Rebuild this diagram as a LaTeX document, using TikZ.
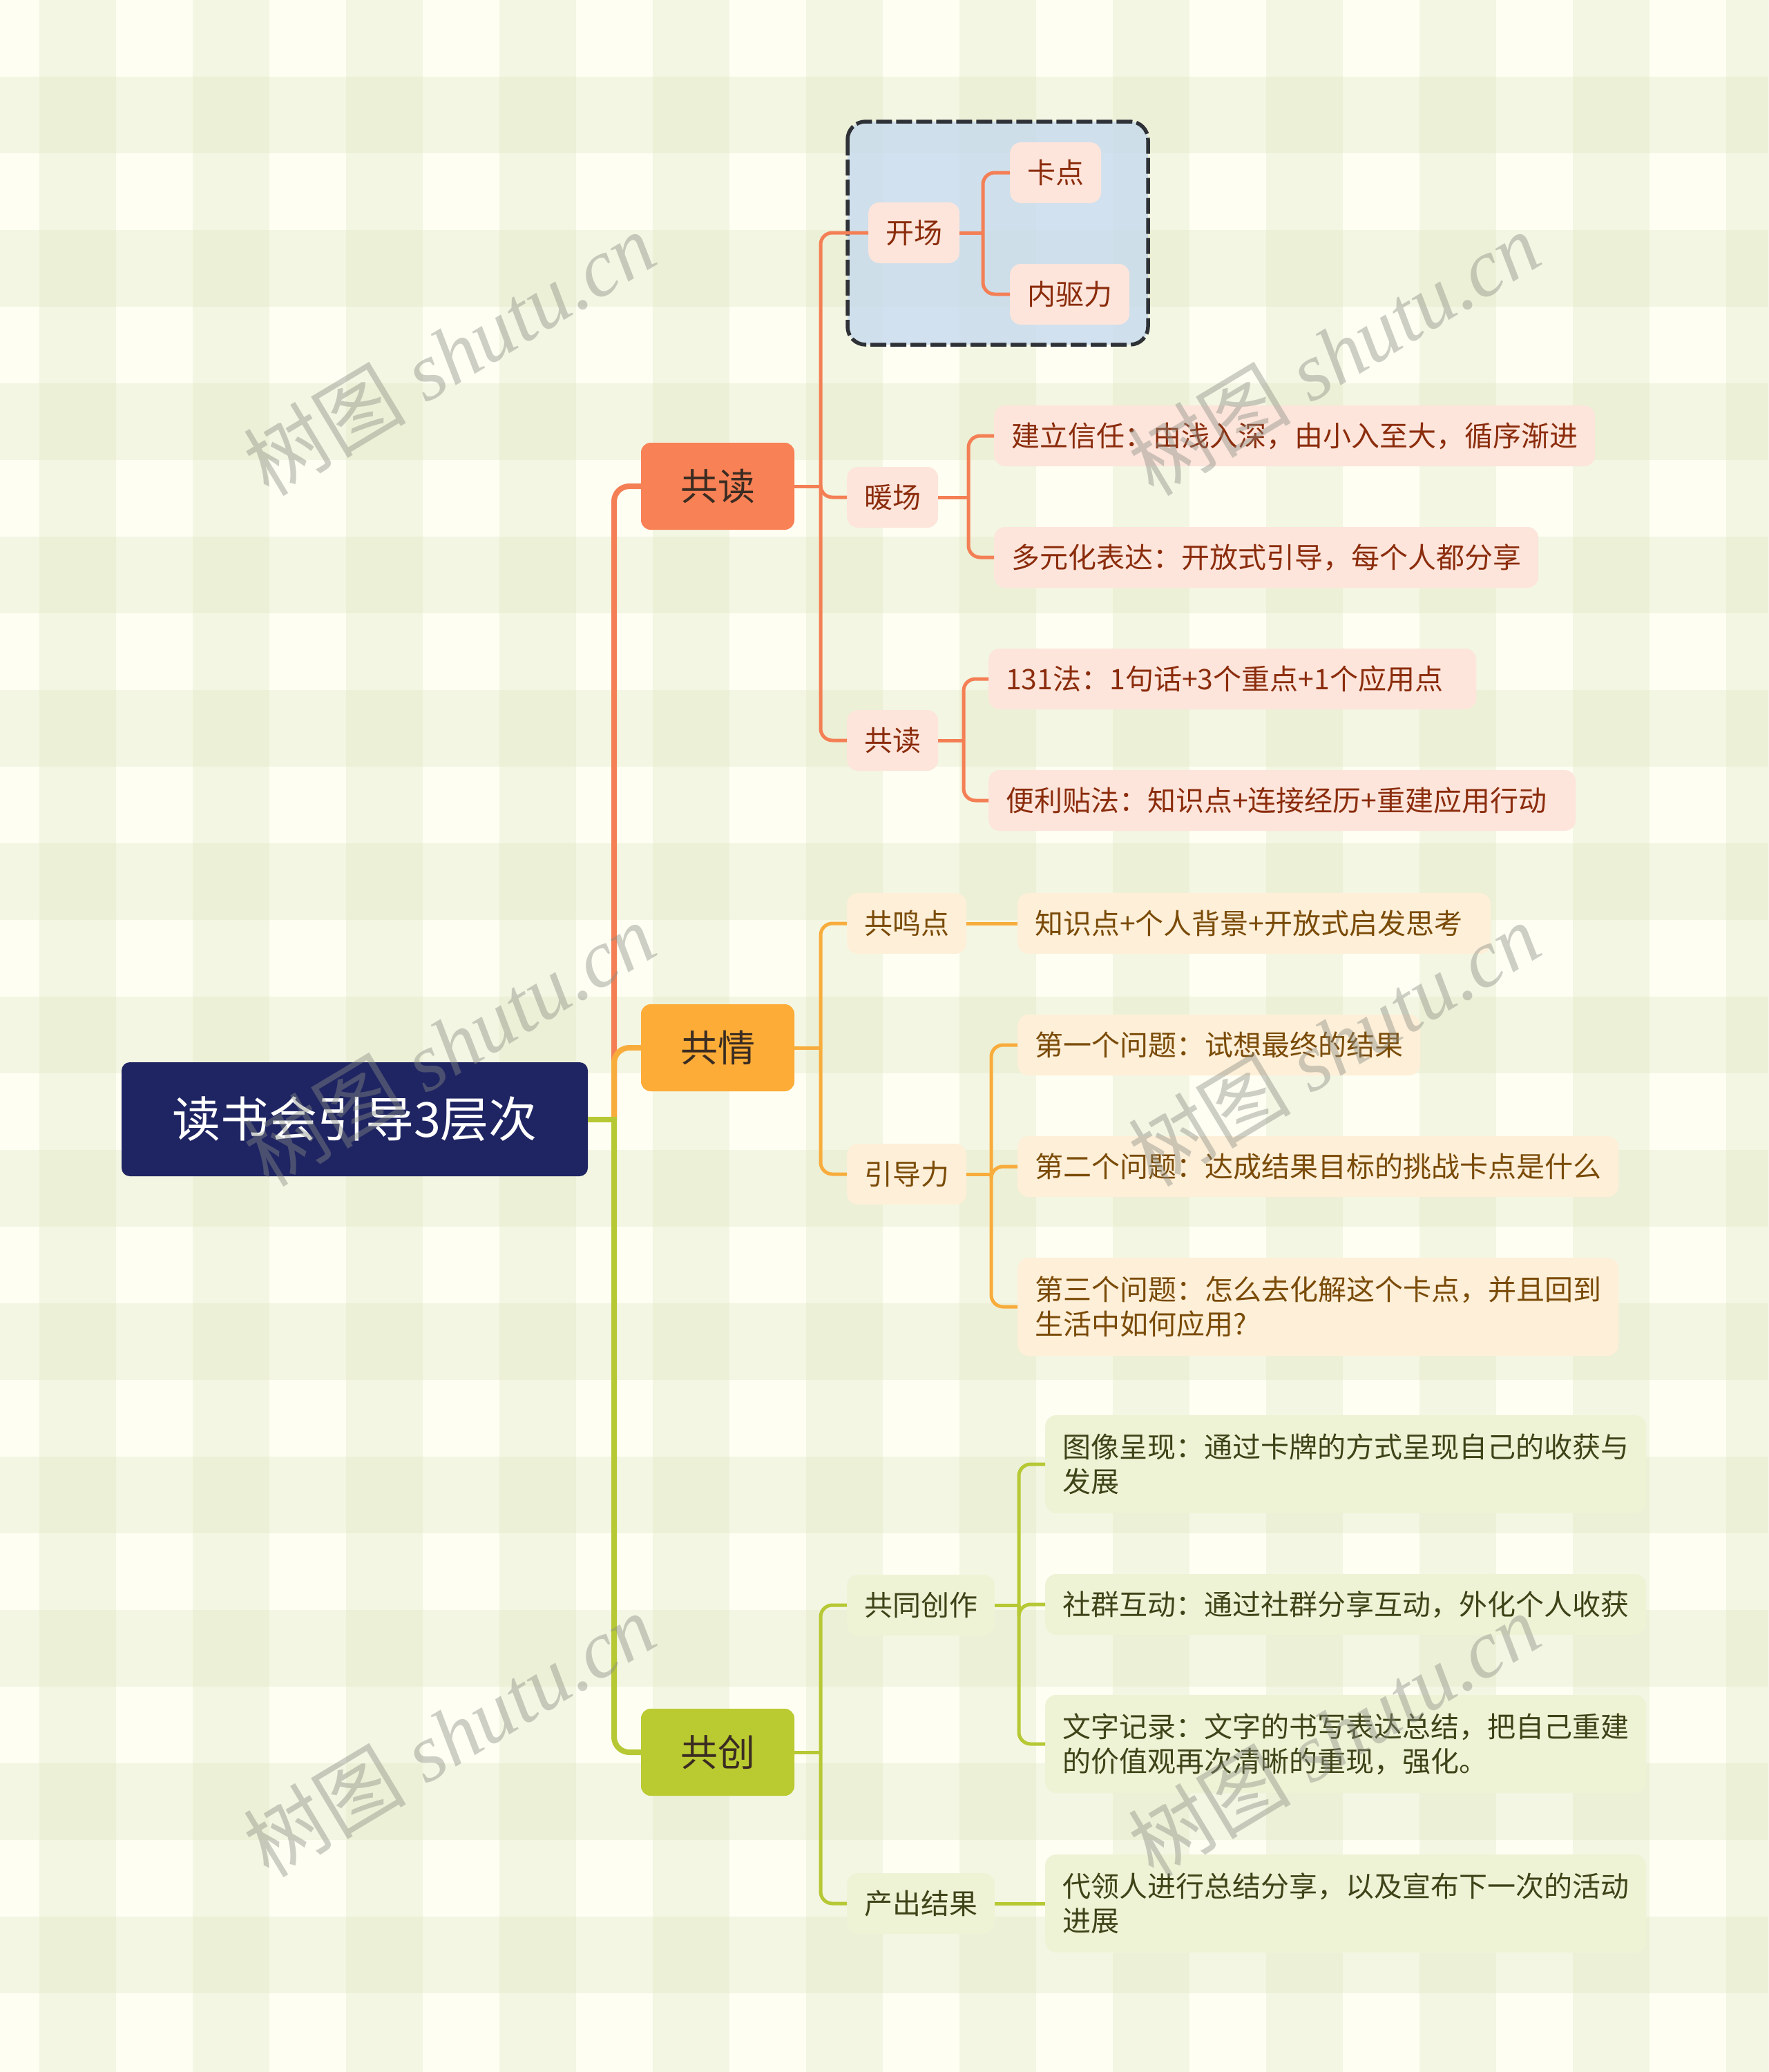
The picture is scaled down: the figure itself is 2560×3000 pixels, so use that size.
\documentclass[tikz,border=0pt]{standalone}
\usepackage{fontspec}
\setmainfont{Noto Sans CJK SC}
\newfontfamily\wmlatin{Liberation Serif}
\usetikzlibrary{calc}
\definecolor{bgbase}{HTML}{FEFEF3}
\definecolor{stripe}{HTML}{DCE5BC}
\definecolor{rootfill}{HTML}{1F2563}
\definecolor{l1text}{HTML}{3A2C22}
\definecolor{ofillA}{HTML}{F88155}
\definecolor{yfillA}{HTML}{FCAC37}
\definecolor{gfillA}{HTML}{BACA31}
\definecolor{ocol}{HTML}{F47F55}
\definecolor{ycol}{HTML}{F8AC3C}
\definecolor{gcol}{HTML}{B6C834}
\definecolor{ofill}{HTML}{FDE5DB}
\definecolor{yfill}{HTML}{FEEFD8}
\definecolor{gfill}{HTML}{EFF3D6}
\definecolor{otext}{HTML}{8B2C0C}
\definecolor{ytext}{HTML}{7A4B08}
\definecolor{gtext}{HTML}{3E4318}
\definecolor{boxblue}{HTML}{C6DAEE}
\definecolor{boxline}{HTML}{2E3136}
\definecolor{wmgray}{HTML}{8A8D84}
\tikzset{
  rootbox/.style={rounded corners=12pt, fill=rootfill, text=white, minimum width=675pt, minimum height=165pt, inner sep=0pt, font=\fontsize{70}{80}\selectfont},
  l1box/.style={rounded corners=14pt, minimum width=222pt, minimum height=126pt, inner sep=0pt, text=l1text, font=\fontsize{54}{60}\selectfont},
  tbox/.style={rounded corners=16pt, anchor=west, inner xsep=25pt, inner ysep=0pt, minimum height=88pt, font=\fontsize{41}{50}\selectfont},
  obox/.style={tbox, fill=ofill, text=otext},
  ybox/.style={tbox, fill=yfill, text=ytext},
  gbox/.style={tbox, fill=gfill, text=gtext},
  wrapbox/.style={align=left, text width=820pt, minimum height=142pt},
  fixw/.style={align=left, text width=#1},
  mainconn/.style={line width=8pt, rounded corners=22pt},
  mainstub/.style={line width=8pt},
  subconn/.style={line width=5pt, rounded corners=17pt},
  substub/.style={line width=5pt},
  wm/.style={rotate=31, text=wmgray, opacity=0.42, inner sep=0pt, font=\fontsize{118}{118}\selectfont},
}
\begin{document}
\begin{tikzpicture}[x=1pt,y=-1pt]
\useasboundingbox (0,0) rectangle (2560,3000);
% background plaid
\fill[bgbase] (0,0) rectangle (2560,3000);
\foreach \k in {0,...,11} \fill[stripe, opacity=0.3] ({57+222*\k},0) rectangle ({168+222*\k},3000);
\foreach \k in {0,...,12} \fill[stripe, opacity=0.3] (0,{111+222*\k}) rectangle (2560,{222+222*\k});

% dashed group box
\draw[boxline, line width=5.5pt, dash pattern=on 23pt off 6pt, rounded corners=26pt, fill=boxblue, fill opacity=0.8] (1227,176) rectangle (1662,499);

% spine coordinates
\coordinate (s0) at (889,0);
\coordinate (s1) at (1188,0);
\coordinate (s11) at (1423,0);
\coordinate (s12) at (1402,0);
\coordinate (s13) at (1395,0);
\coordinate (s21) at (1435,0);
\coordinate (s31) at (1475,0);

% nodes
\node[rootbox] (root) at (513.5,1620.5) {读书会引导3层次};
\node[l1box, fill=ofillA] (ga) at (1039,704) {共读};
\node[l1box, fill=yfillA] (gb) at (1039,1517) {共情};
\node[l1box, fill=gfillA] (gc) at (1039,2537) {共创};

\node[obox, minimum width=128pt] (kc) at (1257,337) {开场};
\node[obox] (kd) at (1462,250) {卡点};
\node[obox] (nq) at (1462,426) {内驱力};
\node[obox] (nc) at (1226,720) {暖场};
\node[obox] (jl) at (1439,631) {建立信任：由浅入深，由小入至大，循序渐进};
\node[obox] (dy) at (1439,807) {多元化表达：开放式引导，每个人都分享};
\node[obox] (gd) at (1226,1072) {共读};
\node[obox, fixw=656pt] (f131) at (1431,983) {131法：1句话+3个重点+1个应用点};
\node[obox, fixw=800pt] (blt) at (1431,1159) {便利贴法：知识点+连接经历+重建应用行动};

\node[ybox] (gm) at (1226,1337) {共鸣点};
\node[ybox, fixw=635pt] (zs) at (1473,1337) {知识点+个人背景+开放式启发思考};
\node[ybox] (ydl) at (1226,1700) {引导力};
\node[ybox] (q1) at (1473,1513) {第一个问题：试想最终的结果};
\node[ybox] (q2) at (1473,1689) {第二个问题：达成结果目标的挑战卡点是什么};
\node[ybox, wrapbox] (q3) at (1473,1892) {第三个问题：怎么去化解这个卡点，并且回到\\生活中如何应用?};

\node[gbox] (gt) at (1226,2324) {共同创作};
\node[gbox] (cc) at (1226,2756) {产出结果};
\node[gbox, wrapbox] (tx) at (1513,2120) {图像呈现：通过卡牌的方式呈现自己的收获与\\发展};
\node[gbox] (sq) at (1513,2323) {社群互动：通过社群分享互动，外化个人收获};
\node[gbox, wrapbox] (wz) at (1513,2525) {文字记录：文字的书写表达总结，把自己重建\\的价值观再次清晰的重现，强化。};
\node[gbox, wrapbox] (dl) at (1513,2756) {代领人进行总结分享，以及宣布下一次的活动\\进展};

% connectors: root to level 1
\draw[mainconn, ocol] (root.east -| s0) |- (ga.west);
\draw[mainconn, ycol] (root.east -| s0) |- (gb.west);
\draw[mainconn, gcol] (root.east -| s0) |- (gc.west);
\draw[mainstub, gcol] (root.east) -- ([xshift=4pt]root.east -| s0);

% 共读 branch
\draw[subconn, ocol] (ga.east -| s1) |- (kc.west);
\draw[subconn, ocol] (ga.east -| s1) |- (nc.west);
\draw[subconn, ocol] (ga.east -| s1) |- (gd.west);
\draw[substub, ocol] (ga.east) -- (ga.east -| s1);
\draw[subconn, ocol] (kc.east -| s11) |- (kd.west);
\draw[subconn, ocol] (kc.east -| s11) |- (nq.west);
\draw[substub, ocol] (kc.east) -- (kc.east -| s11);
\draw[subconn, ocol] (nc.east -| s12) |- (jl.west);
\draw[subconn, ocol] (nc.east -| s12) |- (dy.west);
\draw[substub, ocol] (nc.east) -- (nc.east -| s12);
\draw[subconn, ocol] (gd.east -| s13) |- (f131.west);
\draw[subconn, ocol] (gd.east -| s13) |- (blt.west);
\draw[substub, ocol] (gd.east) -- (gd.east -| s13);

% 共情 branch
\draw[subconn, ycol] (gb.east -| s1) |- (gm.west);
\draw[subconn, ycol] (gb.east -| s1) |- (ydl.west);
\draw[substub, ycol] (gb.east) -- (gb.east -| s1);
\draw[substub, ycol] (gm.east) -- (zs.west);
\draw[subconn, ycol] (ydl.east -| s21) |- (q1.west);
\draw[subconn, ycol] (ydl.east -| s21) |- (q2.west);
\draw[subconn, ycol] (ydl.east -| s21) |- (q3.west);
\draw[substub, ycol] (ydl.east) -- (ydl.east -| s21);

% 共创 branch
\draw[subconn, gcol] (gc.east -| s1) |- (gt.west);
\draw[subconn, gcol] (gc.east -| s1) |- (cc.west);
\draw[substub, gcol] (gc.east) -- (gc.east -| s1);
\draw[subconn, gcol] (gt.east -| s31) |- (tx.west);
\draw[subconn, gcol] (gt.east -| s31) |- (sq.west);
\draw[subconn, gcol] (gt.east -| s31) |- (wz.west);
\draw[substub, gcol] (gt.east) -- (gt.east -| s31);
\draw[substub, gcol] (cc.east) -- (dl.west);

% watermarks
\foreach \cx in {650,1931} {
  \foreach \cy in {512,1512,2512} {
    \node[wm] at (\cx,\cy) {树图{\wmlatin\itshape\ shutu.cn}};
  }
}
\end{tikzpicture}
\end{document}
